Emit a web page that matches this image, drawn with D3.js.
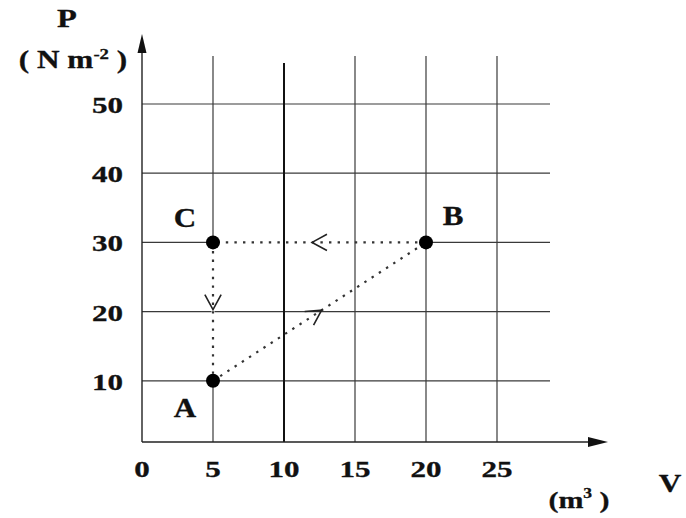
<!DOCTYPE html>
<html><head><meta charset="utf-8">
<script src="https://cdn.jsdelivr.net/npm/d3@7"></script>
<style>body{margin:0;background:#fff}text{font-family:"Liberation Serif","Times New Roman",serif;font-weight:bold;fill:#111;stroke:#111;stroke-width:0.3px}</style>
</head><body><svg id="c" width="686" height="518"></svg>
<script>
// ---- data ----
const xTicks = [0, 5, 10, 15, 20, 25];
const yTicks = [10, 20, 30, 40, 50];
const gridX = [5, 10, 15, 20, 25];
const gridY = [10, 20, 30, 40, 50];
const pointNames = ["A", "B", "C"];
const pointV = [5, 20, 5];
const pointP = [10, 30, 30];
const cycleOrder = ["A", "B", "C", "A"];
const arrowAt = [0.51, 0.535, 0.485]; // fraction along each leg where the open arrow sits

const svg = d3.select("#c");
const x = d3.scaleLinear().domain([0, 25]).range([142, 497]);
const y = d3.scaleLinear().domain([0, 50]).range([450, 104]);
const axisY = 442, gridRight = 550;

function txt(s, px, py, fs, anchor, sx) {
  const t = svg.append("text").attr("transform", `translate(${px},${py}) scale(${sx||1.35},1)`)
    .attr("text-anchor", anchor || "middle").style("font-size", fs + "px");
  return t.text(s);
}

const pts = {};
pointNames.forEach((n, i) => pts[n] = [x(pointV[i]), y(pointP[i])]);
const legs = [];
for (let i = 0; i < cycleOrder.length - 1; i++) legs.push([pts[cycleOrder[i]], pts[cycleOrder[i + 1]], arrowAt[i]]);
function eraser(filterFn) {
  legs.filter(filterFn).forEach(([a, b]) => svg.append("line")
    .attr("x1", a[0]).attr("y1", a[1]).attr("x2", b[0]).attr("y2", b[1])
    .attr("stroke", "#fff").attr("stroke-width", 3));
}

// grid (grid lines are hidden under the axis-parallel legs of the cycle)
svg.append("g").selectAll("line").data(gridY).join("line")
  .attr("x1", x(0)).attr("x2", gridRight).attr("y1", d => y(d)).attr("y2", d => y(d))
  .attr("stroke", "#3a3a3a").attr("stroke-width", 1.2);
eraser(([a, b]) => a[1] === b[1]);
svg.append("g").selectAll("line").data(gridX).join("line")
  .attr("x1", d => x(d)).attr("x2", d => x(d)).attr("y1", axisY).attr("y2", d => d === 10 ? 63 : 56)
  .attr("stroke", d => d === 10 ? "#111" : "#3a3a3a").attr("stroke-width", d => d === 10 ? 2 : 1.2);
eraser(([a, b]) => a[0] === b[0]);

// axes
svg.append("line").attr("x1", x(0)).attr("x2", x(0)).attr("y1", axisY).attr("y2", 50).attr("stroke", "#222").attr("stroke-width", 1.4);
svg.append("path").attr("d", `M${x(0)},34 L${x(0)-4.5},53 L${x(0)+4.5},53 Z`).attr("fill", "#111");
svg.append("line").attr("x1", x(0)).attr("x2", 592).attr("y1", axisY).attr("y2", axisY).attr("stroke", "#222").attr("stroke-width", 1.6);
svg.append("path").attr("d", `M608,${axisY} L588,${axisY-5} L588,${axisY+5} Z`).attr("fill", "#111");

// tick labels
xTicks.forEach(v => txt(String(v), x(v), 477, 23, "middle"));
yTicks.forEach(v => txt(String(v), 123, y(v) + 9, 23, "end"));

// axis titles
txt("P", 67, 27, 26, "middle", 1.25);
const t1 = txt("", 73, 68, 25, "middle", 1.25);
t1.append("tspan").text("( N m");
t1.append("tspan").text("-2").attr("dy", -9).style("font-size", "15px");
t1.append("tspan").text(" )").attr("dy", 9);
txt("V", 670, 492, 25, "middle", 1.25);
const t2 = txt("", 579, 508, 24, "middle", 1.25);
t2.append("tspan").text("(m");
t2.append("tspan").text("3").attr("dy", -10).style("font-size", "14px");
t2.append("tspan").text(" )").attr("dy", 10);

// process path (dotted) with open direction arrows
legs.forEach(([a, b, f]) => {
  svg.append("line").attr("x1", a[0]).attr("y1", a[1]).attr("x2", b[0]).attr("y2", b[1])
    .attr("stroke", "#333").attr("stroke-width", 2.2).attr("stroke-dasharray", "2.4,6.2");
  const tx = a[0] + (b[0] - a[0]) * f, ty = a[1] + (b[1] - a[1]) * f;
  const ang = Math.atan2(b[1] - a[1], b[0] - a[0]);
  const L = 17, spread = 0.5;
  const p1 = [tx - L * Math.cos(ang - spread), ty - L * Math.sin(ang - spread)];
  const p2 = [tx - L * Math.cos(ang + spread), ty - L * Math.sin(ang + spread)];
  svg.append("path").attr("d", `M${p1[0]},${p1[1]} L${tx},${ty} L${p2[0]},${p2[1]}`)
    .attr("fill", "none").attr("stroke", "#222").attr("stroke-width", 1.6);
});

// points
svg.append("g").selectAll("circle").data(pointNames).join("circle")
  .attr("cx", (d, i) => x(pointV[i])).attr("cy", (d, i) => y(pointP[i])).attr("r", 7).attr("fill", "#000");

// point labels
const labelOffset = { A: [-28, 36], B: [27, -17], C: [-28, -15] };
pointNames.forEach((n, i) => txt(n, x(pointV[i]) + labelOffset[n][0], y(pointP[i]) + labelOffset[n][1], 27, "middle", 1.15));
</script></body></html>
